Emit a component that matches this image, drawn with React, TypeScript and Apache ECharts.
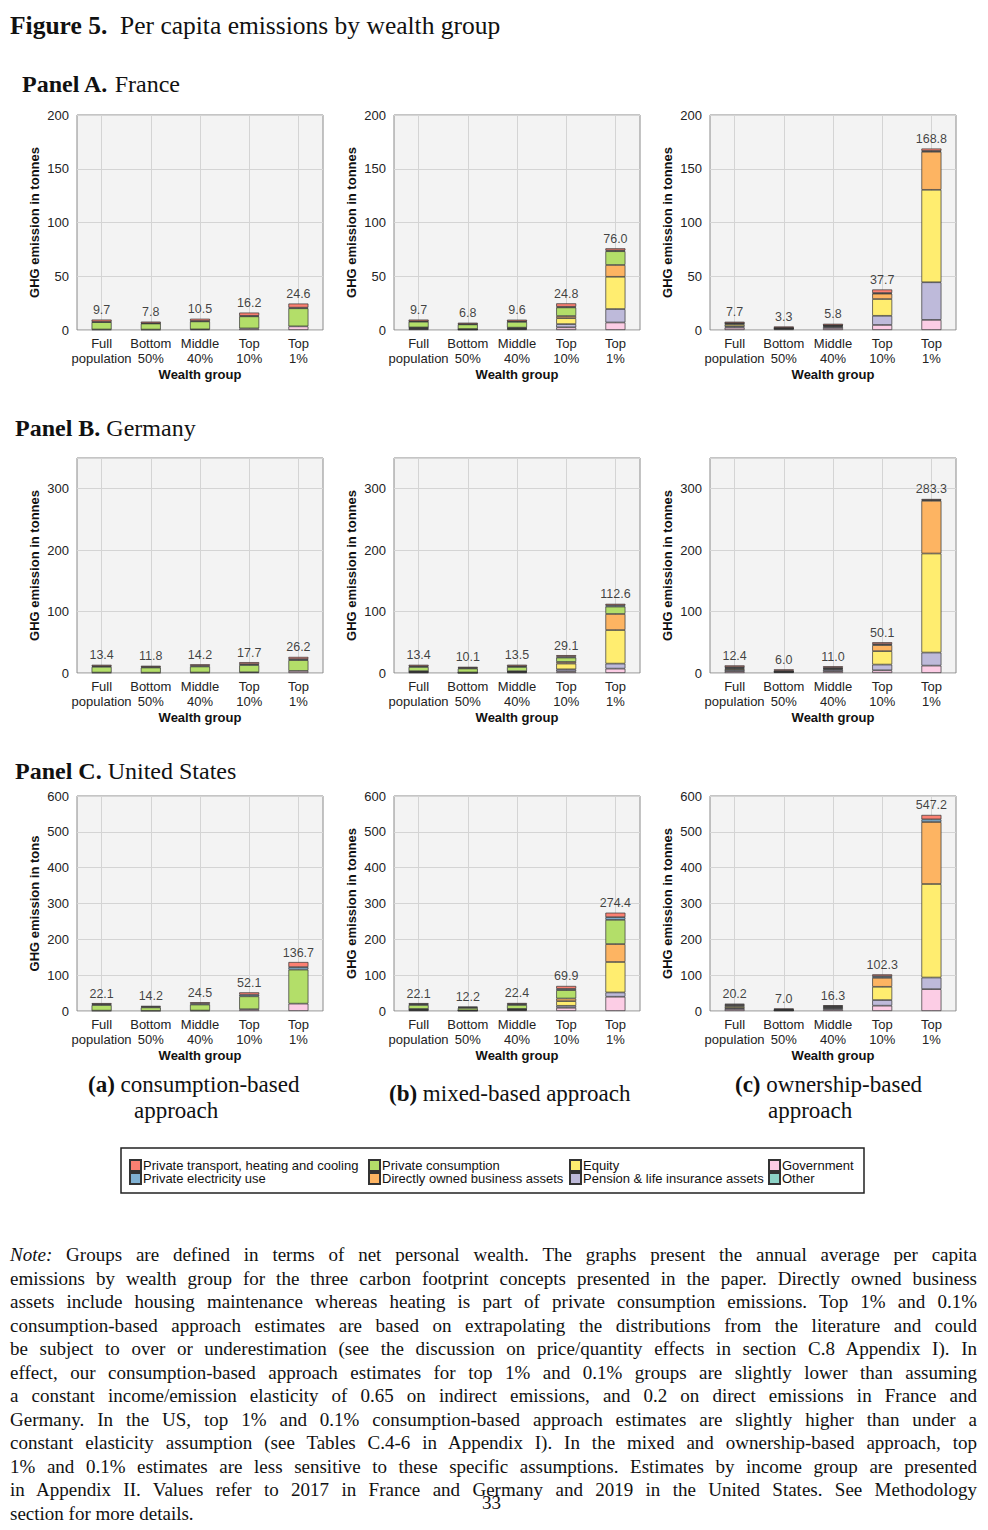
import React, { useEffect, useRef } from "react";
import * as echarts from "echarts";

// ---------- data ----------
const categories = ["Full\npopulation", "Bottom\n50%", "Middle\n40%", "Top\n10%", "Top\n1%"];

// stack order bottom -> top
const seriesNames = [
  "Government",
  "Pension & life insurance assets",
  "Equity",
  "Directly owned business assets",
  "Private consumption",
  "Private electricity use",
  "Private transport, heating and cooling",
  "Other",
];
const seriesColors = ["#fccde5", "#bebada", "#ffed6f", "#fdb462", "#b3de69", "#80b1d3", "#fb8072", "#8dd3c7"];

// rows: Government, Pension, Equity, Business, Consumption, Electricity, Transport, Other
const franceConsumption = [
  [0.5, 0.4, 0.6, 1.5, 3.4],
  [0, 0, 0, 0, 0],
  [0, 0, 0, 0, 0],
  [0, 0, 0, 0, 0],
  [6.8, 5.6, 7.4, 11.2, 16.8],
  [0.4, 0.3, 0.4, 0.5, 0.6],
  [2.0, 1.5, 2.1, 3.0, 3.8],
  [0, 0, 0, 0, 0],
];
const franceConsumptionTotals = [9.7, 7.8, 10.5, 16.2, 24.6];

const franceMixed = [
  [0.9, 0.4, 0.8, 2.5, 7.0],
  [0.6, 0.2, 0.6, 3.0, 12.5],
  [0.5, 0.1, 0.4, 5.5, 30.0],
  [0.4, 0.2, 0.4, 2.0, 11.0],
  [5.3, 4.3, 5.4, 8.0, 12.8],
  [0.4, 0.3, 0.4, 0.6, 0.7],
  [1.6, 1.3, 1.6, 3.2, 2.0],
  [0, 0, 0, 0, 0],
];
const franceMixedTotals = [9.7, 6.8, 9.6, 24.8, 76.0];

const franceOwnership = [
  [2.2, 1.0, 1.9, 4.7, 9.4],
  [1.3, 0.3, 1.2, 8.5, 35.0],
  [1.8, 0.2, 0.6, 15.6, 86.0],
  [0.8, 0.2, 0.4, 5.0, 35.4],
  [0, 0, 0, 0, 0],
  [0.3, 0.3, 0.3, 0.6, 0.8],
  [1.3, 1.3, 1.4, 3.3, 2.2],
  [0, 0, 0, 0, 0],
];
const franceOwnershipTotals = [7.7, 3.3, 5.8, 37.7, 168.8];

const germanyConsumption = [
  [0.7, 0.5, 0.8, 1.2, 3.4],
  [0, 0, 0, 0, 0],
  [0, 0, 0, 0, 0],
  [0, 0, 0, 0, 0],
  [9.3, 8.4, 9.8, 11.7, 17.5],
  [1.2, 1.0, 1.3, 1.6, 1.8],
  [2.2, 1.9, 2.3, 3.2, 3.5],
  [0, 0, 0, 0, 0],
];
const germanyConsumptionTotals = [13.4, 11.8, 14.2, 17.7, 26.2];

const germanyMixed = [
  [1.0, 0.4, 1.0, 2.7, 7.1],
  [0.6, 0.2, 0.8, 3.3, 8.2],
  [0.8, 0.1, 0.6, 9.3, 54.6],
  [0.6, 0.2, 0.5, 2.7, 26.2],
  [6.8, 6.4, 6.9, 7.1, 12.0],
  [1.2, 1.0, 1.3, 1.6, 2.0],
  [2.4, 1.8, 2.4, 2.4, 2.5],
  [0, 0, 0, 0, 0],
];
const germanyMixedTotals = [13.4, 10.1, 13.5, 29.1, 112.6];

const germanyOwnership = [
  [3.0, 1.5, 3.0, 4.4, 12.0],
  [2.2, 0.4, 2.5, 9.3, 21.3],
  [1.8, 0.3, 1.2, 21.9, 161.2],
  [1.2, 0.3, 0.8, 9.8, 85.8],
  [0, 0, 0, 0, 0],
  [1.5, 1.2, 1.2, 1.6, 1.2],
  [2.7, 2.3, 2.3, 3.1, 1.8],
  [0, 0, 0, 0, 0],
];
const germanyOwnershipTotals = [12.4, 6.0, 11.0, 50.1, 283.3];

const usConsumption = [
  [1.0, 0.5, 1.2, 5.0, 20.5],
  [0, 0, 0, 0, 0],
  [0, 0, 0, 0, 0],
  [0, 0, 0, 0, 0],
  [15.6, 9.5, 16.8, 36.0, 95.0],
  [2.3, 1.8, 2.8, 4.5, 7.0],
  [3.2, 2.4, 3.7, 6.6, 14.2],
  [0, 0, 0, 0, 0],
];
const usConsumptionTotals = [22.1, 14.2, 24.5, 52.1, 136.7];

const usMixed = [
  [2.0, 1.0, 2.2, 9.0, 39.8],
  [1.2, 0.3, 1.8, 5.5, 12.0],
  [1.5, 0.2, 1.0, 13.0, 85.0],
  [1.0, 0.3, 0.8, 7.4, 50.0],
  [11.0, 6.8, 11.0, 23.3, 67.6],
  [2.4, 1.6, 2.5, 3.7, 7.4],
  [3.0, 2.0, 3.1, 8.0, 12.6],
  [0, 0, 0, 0, 0],
];
const usMixedTotals = [22.1, 12.2, 22.4, 69.9, 274.4];

const usOwnership = [
  [5.5, 1.5, 4.5, 14.8, 61.0],
  [3.0, 0.5, 3.0, 15.7, 32.4],
  [4.5, 0.3, 2.3, 37.0, 261.0],
  [2.5, 0.5, 1.5, 25.0, 173.0],
  [0, 0, 0, 0, 0],
  [2.2, 1.8, 2.3, 4.8, 7.4],
  [2.5, 2.4, 2.7, 5.0, 12.4],
  [0, 0, 0, 0, 0],
];
const usOwnershipTotals = [20.2, 7.0, 16.3, 102.3, 547.2];

const franceAxis = { max: 200, interval: 50, step: 50 };
const germanyAxis = { max: 350, interval: 100, step: 100 };
const usAxis = { max: 600, interval: 100, step: 100 };

const yNameTonnes = "GHG emission in tonnes";
const yNameTons = "GHG emission in tons";

const noteLines = [
  "Groups are defined in terms of net personal wealth. The graphs present the annual average per capita",
  "emissions by wealth group for the three carbon footprint concepts presented in the paper. Directly owned business",
  "assets include housing maintenance whereas heating is part of private consumption emissions. Top 1% and 0.1%",
  "consumption-based approach estimates are based on extrapolating the distributions from the literature and could",
  "be subject to over or underestimation (see the discussion on price/quantity effects in section C.8 Appendix I). In",
  "effect, our consumption-based approach estimates for top 1% and 0.1% groups are slightly lower than assuming",
  "a constant income/emission elasticity of 0.65 on indirect emissions, and 0.2 on direct emissions in France and",
  "Germany. In the US, top 1% and 0.1% consumption-based approach estimates are slightly higher than under a",
  "constant elasticity assumption (see Tables C.4-6 in Appendix I). In the mixed and ownership-based approach, top",
  "1% and 0.1% estimates are less sensitive to these specific assumptions. Estimates by income group are presented",
  "in Appendix II. Values refer to 2017 in France and Germany and 2019 in the United States. See Methodology",
  "section for more details.",
];

// ---------- layout ----------
const SANS = "Liberation Sans, Arial, sans-serif";
const SERIF = "Liberation Serif, Times New Roman, serif";
const colLefts = [77, 394, 710];
const rowTops = [115, 458, 796];
const gridW = 246;
const gridH = 215;

const panels = [
  { rows: franceConsumption, totals: franceConsumptionTotals, axis: franceAxis, yName: yNameTonnes },
  { rows: franceMixed, totals: franceMixedTotals, axis: franceAxis, yName: yNameTonnes },
  { rows: franceOwnership, totals: franceOwnershipTotals, axis: franceAxis, yName: yNameTonnes },
  { rows: germanyConsumption, totals: germanyConsumptionTotals, axis: germanyAxis, yName: yNameTonnes },
  { rows: germanyMixed, totals: germanyMixedTotals, axis: germanyAxis, yName: yNameTonnes },
  { rows: germanyOwnership, totals: germanyOwnershipTotals, axis: germanyAxis, yName: yNameTonnes },
  { rows: usConsumption, totals: usConsumptionTotals, axis: usAxis, yName: yNameTons },
  { rows: usMixed, totals: usMixedTotals, axis: usAxis, yName: yNameTonnes },
  { rows: usOwnership, totals: usOwnershipTotals, axis: usAxis, yName: yNameTonnes },
];

function buildOption() {
  const grid: any[] = [];
  const xAxis: any[] = [];
  const yAxis: any[] = [];
  const series: any[] = [];

  panels.forEach((p, i) => {
    const r = Math.floor(i / 3);
    const c = i % 3;
    grid.push({
      left: colLefts[c],
      top: rowTops[r],
      width: gridW,
      height: gridH,
      show: true,
      backgroundColor: "#f3f3f3",
      borderColor: "#8a8a8a",
      borderWidth: 1,
    });
    xAxis.push({
      type: "category",
      gridIndex: i,
      data: categories,
      axisLine: { show: false },
      axisTick: { show: false },
      splitLine: { show: false },
      axisLabel: { margin: 6, fontSize: 13, lineHeight: 15, color: "#222", fontFamily: SANS, interval: 0 },
      name: "Wealth group",
      nameLocation: "middle",
      nameGap: 38,
      nameTextStyle: { fontSize: 13, fontWeight: "bold", color: "#111", fontFamily: SANS },
    });
    yAxis.push({
      type: "value",
      gridIndex: i,
      min: 0,
      max: p.axis.max,
      interval: p.axis.interval,
      axisLine: { show: false },
      axisTick: { show: false },
      splitLine: { show: true, lineStyle: { color: "#d4d4d4", width: 1 } },
      axisLabel: {
        margin: 8,
        fontSize: 13,
        color: "#222",
        fontFamily: SANS,
        formatter: (v: number) => (v % p.axis.step === 0 && v <= p.axis.max - (p.axis.max % p.axis.step) ? String(v) : ""),
      },
      name: p.yName,
      nameLocation: "middle",
      nameGap: 36,
      nameTextStyle: { fontSize: 13, fontWeight: "bold", color: "#111", fontFamily: SANS },
    });
    seriesNames.forEach((name, k) => {
      series.push({
        type: "bar",
        name,
        xAxisIndex: i,
        yAxisIndex: i,
        stack: "s" + i,
        // zero-valued segments are left out so they draw no outline
        data: p.rows[k].map((v) => (v === 0 ? null : v)),
        barWidth: 20,
        itemStyle: { color: seriesColors[k], borderColor: "#333", borderWidth: 0.7 },
        z: 3,
      });
    });
    series.push({
      type: "scatter",
      name: "total" + i,
      xAxisIndex: i,
      yAxisIndex: i,
      data: p.totals,
      symbolSize: 0,
      z: 4,
      silent: true,
      label: {
        show: true,
        position: "top",
        distance: 3,
        fontSize: 12.5,
        color: "#111",
        fontFamily: SANS,
        formatter: (d: any) => Number(d.value).toFixed(1),
      },
      markLine: {
        silent: true,
        z: 1,
        symbol: "none",
        label: { show: false },
        lineStyle: { color: "#d4d4d4", width: 1, type: "solid" },
        data: categories.map((cat) => ({ xAxis: cat })),
      },
    });
  });

  const legendCols = [
    { left: 129, names: [seriesNames[6], seriesNames[5]] },
    { left: 368, names: [seriesNames[4], seriesNames[3]] },
    { left: 569, names: [seriesNames[2], seriesNames[1]] },
    { left: 768, names: [seriesNames[0], seriesNames[7]] },
  ];
  const legend = legendCols.map((lc) => ({
    orient: "vertical",
    left: lc.left,
    top: 1159,
    padding: 0,
    itemGap: 0,
    itemWidth: 11,
    itemHeight: 11,
    icon: "rect",
    selectedMode: false,
    data: lc.names,
    textStyle: { fontSize: 13, lineHeight: 13, color: "#111", fontFamily: SANS, padding: [0, 0, 0, -3] },
  }));

  const captionStyle = { fontFamily: SERIF, fontSize: 23, fill: "#111", verticalAlign: "middle" };
  const richBold = { b: { fontWeight: "bold", fontFamily: SERIF, fontSize: 23 } };
  const panelStyle = { fontFamily: SERIF, fontSize: 24, fill: "#111", verticalAlign: "middle" };
  const richPanel = { b: { fontWeight: "bold", fontFamily: SERIF, fontSize: 24 } };

  const graphic = [
    {
      type: "text",
      x: 10,
      y: 25,
      style: {
        text: "{b|Figure 5.}  Per capita emissions by wealth group",
        fontFamily: SERIF,
        fontSize: 25.5,
        fill: "#111",
        verticalAlign: "middle",
        rich: { b: { fontWeight: "bold", fontFamily: SERIF, fontSize: 25.5 } },
      },
    },
    { type: "text", x: 22, y: 84, style: { ...panelStyle, text: "{b|Panel A.} France", rich: richPanel } },
    { type: "text", x: 15, y: 428, style: { ...panelStyle, text: "{b|Panel B.} Germany", rich: richPanel } },
    { type: "text", x: 15, y: 771, style: { ...panelStyle, text: "{b|Panel C.} United States", rich: richPanel } },
    { type: "text", x: 88, y: 1084, style: { ...captionStyle, text: "{b|(a)} consumption-based", rich: richBold } },
    { type: "text", x: 134, y: 1110, style: { ...captionStyle, text: "approach" } },
    { type: "text", x: 389, y: 1093, style: { ...captionStyle, text: "{b|(b)} mixed-based approach", rich: richBold } },
    { type: "text", x: 735, y: 1084, style: { ...captionStyle, text: "{b|(c)} ownership-based", rich: richBold } },
    { type: "text", x: 768, y: 1110, style: { ...captionStyle, text: "approach" } },
    {
      type: "rect",
      shape: { x: 121, y: 1148, width: 743, height: 45 },
      style: { fill: "none", stroke: "#222", lineWidth: 1.5 },
    },
  ];

  return {
    animation: false,
    backgroundColor: "#fff",
    textStyle: { fontFamily: SANS },
    grid,
    xAxis,
    yAxis,
    series,
    legend,
    graphic,
  };
}

function Chart() {
  const ref = useRef<HTMLDivElement>(null);
  useEffect(() => {
    if (!ref.current) return;
    const chart = echarts.init(ref.current, undefined, { renderer: "svg" });
    chart.setOption(buildOption() as any);
    return () => chart.dispose();
  }, []);
  return <div ref={ref} style={{ position: "absolute", left: 0, top: 0, width: 988, height: 1210 }} />;
}

export default function App() {
  return (
    <div style={{ position: "absolute", left: 0, top: 0, width: 988, height: 1530, background: "#fff", overflow: "hidden" }}>
      <Chart />
      <div
        style={{
          position: "absolute",
          left: 10,
          top: 1243,
          width: 967,
          fontFamily: SERIF,
          fontSize: 19,
          lineHeight: "23.5px",
          color: "#111",
        }}
      >
        {noteLines.map((line, i) => (
          <div
            key={i}
            style={{
              textAlign: "justify",
              textAlignLast: i === noteLines.length - 1 ? "left" : "justify",
              whiteSpace: "normal",
            }}
          >
            {i === 0 ? <i>Note: </i> : null}
            {line}
          </div>
        ))}
      </div>
      <div style={{ position: "absolute", left: 482, top: 1492, fontFamily: SERIF, fontSize: 19, color: "#111" }}>33</div>
    </div>
  );
}
